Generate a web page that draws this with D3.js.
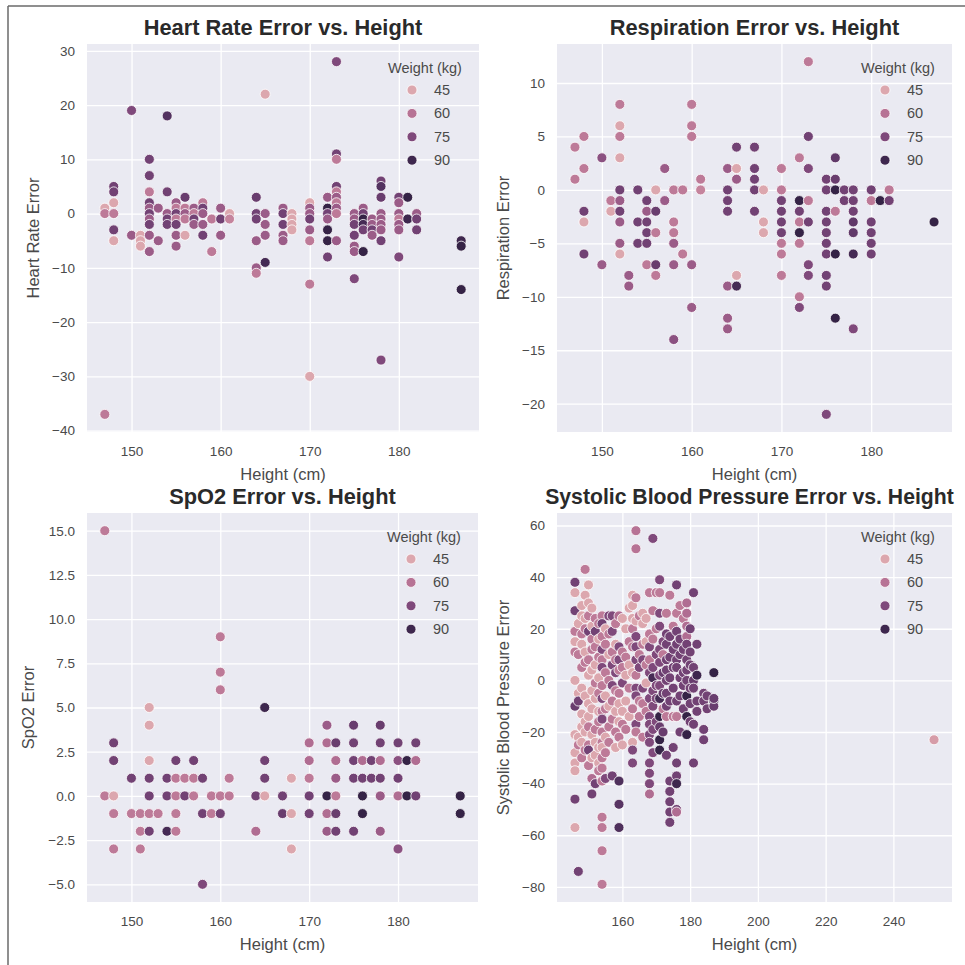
<!DOCTYPE html>
<html><head><meta charset="utf-8">
<script src="https://cdn.jsdelivr.net/npm/d3@7"></script>
<style>body{margin:0;background:#fff}svg{display:block}</style>
</head><body>
<svg id="chart" width="965" height="965"></svg>
<script>
// ---------- DATA: [height cm, error, weight kg] ----------
const heartRatePoints = [
[147,1,45],[147,0,58],[147,-37,58],
[148,5,78],[148,4,78],[148,2,45],[148,0,58],[148,-3,78],[148,-5,45],
[150,19,75],[150,-4,68],
[151,-4,45],[151,-5,45],[151,-6,45],
[152,10,78],[152,7,78],[152,4,58],[152,2,78],[152,1,68],[152,0,78],[152,-1,68],[152,-2,78],[152,-4,68],[152,-7,68],
[153,1,68],[153,-5,68],
[154,18,85],[154,4,78],[154,0,68],[154,-1,78],[154,-2,78],
[155,2,68],[155,1,58],[155,0,78],[155,-1,58],[155,-2,78],[155,-4,68],[155,-6,68],
[156,3,80],[156,1,58],[156,0,68],[156,-1,58],[156,-4,45],
[157,1,68],[157,0,58],[157,-1,78],[157,-2,68],
[158,2,58],[158,1,78],[158,0,68],[158,-2,68],[158,-4,78],
[159,-1,58],[159,-7,58],
[160,1,68],[160,-1,78],[160,-4,68],
[161,0,45],[161,-1,55],
[164,3,80],[164,0,78],[164,-1,78],[164,-5,68],[164,-10,68],[164,-11,58],
[165,22,45],[165,0,68],[165,-2,68],[165,-4,68],[165,-9,88],
[167,1,68],[167,0,78],[167,-2,78],[167,-4,68],[167,-5,68],
[168,0,45],[168,-1,45],[168,-2,45],[168,-3,45],
[170,2,45],[170,1,68],[170,0,68],[170,-1,78],[170,-3,68],[170,-5,58],[170,-13,58],[170,-30,45],
[172,3,68],[172,1,92],[172,0,78],[172,-1,68],[172,-3,92],[172,-5,92],[172,-8,78],
[173,28,75],[173,11,78],[173,10,58],[173,5,78],[173,4,58],[173,3,68],[173,2,58],[173,1,68],[173,0,58],[173,-5,68],
[175,0,68],[175,-1,68],[175,-2,78],[175,-4,78],[175,-6,68],[175,-7,68],[175,-12,75],
[176,1,68],[176,0,78],[176,-1,92],[176,-2,88],[176,-3,78],[176,-7,92],
[177,-1,68],[177,-2,68],[177,-3,78],[177,-4,68],
[178,6,78],[178,5,85],[178,3,80],[178,0,68],[178,-1,68],[178,-2,68],[178,-3,68],[178,-5,78],[178,-27,75],
[180,3,78],[180,2,68],[180,0,68],[180,-1,58],[180,-2,68],[180,-3,68],[180,-8,75],
[181,3,92],[181,-1,90],
[182,0,68],[182,-1,78],[182,-3,78],
[187,-5,90],[187,-6,92],[187,-14,92]
];
const respirationPoints = [
[147,4,58],[147,1,58],
[148,5,58],[148,2,58],[148,-2,78],[148,-3,45],[148,-6,78],
[150,3,72],[150,-7,68],
[151,-1,58],[151,-2,45],
[152,8,58],[152,6,45],[152,5,58],[152,3,45],[152,0,78],[152,-1,68],[152,-2,78],[152,-3,68],[152,-5,68],[152,-6,45],
[153,-8,68],[153,-9,68],
[154,0,78],[154,-3,78],[154,-5,78],
[155,-1,78],[155,-2,68],[155,-3,78],[155,-4,78],[155,-5,78],[155,-7,58],
[156,0,45],[156,-2,80],[156,-4,58],[156,-7,80],[156,-8,58],
[157,2,68],[157,-1,68],
[158,0,58],[158,-3,58],[158,-4,58],[158,-5,68],[158,-7,68],[158,-14,72],
[159,0,58],[159,-6,58],
[160,8,58],[160,6,58],[160,5,58],[160,-7,68],[160,-11,68],
[161,1,58],[161,0,55],
[164,2,68],[164,0,78],[164,-1,78],[164,-2,78],[164,-9,68],[164,-12,68],[164,-13,68],
[165,4,78],[165,2,45],[165,1,68],[165,-8,45],[165,-9,88],
[167,4,78],[167,2,78],[167,1,78],[167,0,78],[167,-2,78],
[168,0,45],[168,-3,45],[168,-4,45],
[170,2,58],[170,0,58],[170,-1,78],[170,-2,78],[170,-3,78],[170,-4,78],[170,-5,58],[170,-6,58],[170,-8,58],
[172,3,58],[172,-1,92],[172,-2,78],[172,-3,58],[172,-4,92],[172,-5,58],[172,-10,58],[172,-11,75],
[173,12,58],[173,5,78],[173,2,75],[173,-1,58],[173,-3,78],[173,-7,75],[173,-8,75],
[175,1,78],[175,0,78],[175,-2,78],[175,-3,78],[175,-4,78],[175,-5,78],[175,-6,78],[175,-8,78],[175,-9,78],[175,-21,75],
[176,3,82],[176,1,80],[176,0,92],[176,-2,58],[176,-6,92],[176,-12,92],
[177,0,78],[177,-1,78],
[178,0,78],[178,-1,78],[178,-2,78],[178,-3,82],[178,-4,82],[178,-6,88],[178,-13,75],
[180,0,78],[180,-1,58],[180,-3,78],[180,-4,78],[180,-5,78],[180,-6,78],
[181,-1,92],
[182,0,58],[182,-1,78],
[187,-3,92]
];
const spo2Points = [
[147,15,58],[147,0,58],
[148,3,78],[148,2,78],[148,0,45],[148,-1,58],[148,-3,58],
[150,1,78],[150,-1,58],
[151,-1,58],[151,-2,58],[151,-3,58],
[152,5,45],[152,4,45],[152,2,45],[152,1,78],[152,0,78],[152,-1,58],[152,-2,78],
[153,-1,58],
[154,1,78],[154,0,78],[154,-2,88],
[155,2,78],[155,1,58],[155,0,58],[155,-1,58],[155,-2,58],
[156,1,58],[156,0,78],
[157,2,78],[157,1,58],[157,0,58],
[158,1,78],[158,-1,78],[158,-5,75],
[159,0,58],[159,-1,58],
[160,9,58],[160,7,58],[160,6,58],[160,0,58],[160,-1,78],
[161,1,58],[161,0,58],
[164,0,78],[164,-2,62],
[165,5,90],[165,2,78],[165,1,78],[165,0,45],
[167,0,78],[167,-1,80],
[168,1,45],[168,-1,45],[168,-3,45],
[170,3,62],[170,2,62],[170,1,58],[170,0,78],[170,-1,78],
[172,4,68],[172,3,62],[172,0,92],[172,-1,62],[172,-2,68],
[173,3,80],[173,2,62],[173,1,68],[173,0,58],[173,-1,80],[173,-2,78],
[175,4,80],[175,3,78],[175,2,78],[175,1,78],[175,-2,78],
[176,2,62],[176,1,78],[176,0,92],[176,-1,92],
[177,2,78],[177,1,78],
[178,4,80],[178,3,78],[178,2,62],[178,1,78],[178,0,68],[178,-2,68],
[180,3,78],[180,2,72],[180,1,78],[180,0,62],[180,-3,72],
[181,2,92],[181,0,92],
[182,3,78],[182,2,62],[182,0,78],
[187,0,92],[187,-1,92]
];
const systolicPoints = [
[146,38,78],[146,34,45],[146,27,78],[146,19,58],[146,15,45],[146,11,58],[146,0,45],[146,-10,80],[146,-21,45],[146,-28,45],[146,-32,45],[146,-35,45],[146,-46,78],[146,-57,45],[147,-74,78],
[147,22,45],[147,10,58],[147,-5,45],[147,-8,78],[147,-22,45],[147,-25,58],
[148,29,45],[148,25,45],[148,18,58],[148,14,45],[148,5,58],[148,-3,45],[148,-13,45],[148,-18,45],[148,-24,45],[148,-30,58],
[149,43,58],[149,33,45],[149,24,45],[149,20,58],[149,11,45],[149,7,58],[149,-6,45],[149,-16,45],[149,-20,45],[149,-27,58],
[150,37,45],[150,30,45],[150,25,58],[150,19,78],[150,8,58],[150,2,45],[150,-9,45],[150,-14,45],[150,-18,58],[150,-25,58],[150,-27,78],[150,-33,58],
[151,28,45],[151,21,45],[151,16,58],[151,12,58],[151,4,45],[151,-4,45],[151,-11,45],[151,-21,45],[151,-30,45],[151,-38,62],[151,-44,78],
[152,24,58],[152,19,78],[152,13,58],[152,6,45],[152,-1,58],[152,-7,45],[152,-19,58],[152,-24,45],[152,-29,45],[152,-40,78],
[153,22,58],[153,16,45],[153,9,58],[153,1,45],[153,-5,58],[153,-12,45],[153,-16,58],[153,-26,45],[153,-32,45],[153,-35,58],
[154,25,58],[154,22,78],[154,17,58],[154,12,75],[154,8,58],[154,5,75],[154,-2,58],[154,-7,75],[154,-12,58],[154,-15,75],[154,-20,58],[154,-24,58],[154,-26,45],[154,-30,58],[154,-34,58],[154,-39,58],[154,-53,58],[154,-57,58],[154,-66,58],[154,-79,58],
[155,20,45],[155,14,58],[155,3,58],[155,-6,45],[155,-11,58],[155,-22,45],[155,-28,58],[155,-38,75],
[156,25,75],[156,18,58],[156,10,45],[156,0,58],[156,-10,45],[156,-18,58],[156,-24,58],
[157,25,75],[157,19,75],[157,11,58],[157,6,75],[157,-2,75],[157,-8,58],[157,-15,58],[157,-37,78],
[158,22,58],[158,14,45],[158,8,58],[158,3,75],[158,-4,58],[158,-12,45],[158,-20,58],[158,-26,45],
[159,25,62],[159,13,75],[159,8,75],[159,4,58],[159,-5,58],[159,-9,45],[159,-16,45],[159,-22,58],[159,-39,86],[159,-48,84],[159,-57,86],
[160,24,45],[160,11,58],[160,5,58],[160,-1,75],[160,-12,45],[160,-17,58],[160,-25,45],
[161,20,45],[161,9,58],[161,2,45],[161,-8,45],[161,-19,58],
[162,28,45],[162,15,58],[162,6,45],[162,-3,58],[162,-14,45],
[163,33,45],[163,29,45],[163,24,45],[163,20,58],[163,13,58],[163,3,45],[163,-11,58],[163,-24,45],[163,-27,75],[163,-32,75],
[164,58,60],[164,51,60],[164,32,58],[164,23,45],[164,17,75],[164,13,75],[164,8,75],[164,2,58],[164,-3,75],[164,-6,75],[164,-17,75],[164,-20,58],
[165,25,58],[165,10,58],[165,5,75],[165,-8,58],[165,-14,58],
[166,26,45],[166,22,45],[166,14,58],[166,8,75],[166,-3,75],[166,-9,58],[166,-22,58],
[167,24,45],[167,15,45],[167,6,58],[167,-1,45],[167,-12,58],
[168,34,58],[168,18,58],[168,13,75],[168,8,58],[168,3,75],[168,-7,75],[168,-14,75],[168,-17,75],[168,-21,75],[168,-24,75],[168,-32,75],[168,-36,75],[168,-40,75],[168,-44,62],
[169,55,75],[169,27,58],[169,16,58],[169,5,75],[169,1,88],[169,-4,75],[169,-10,75],[169,-19,75],[169,-28,75],
[170,34,58],[170,20,58],[170,10,75],[170,-2,75],[170,-7,75],[170,-16,75],
[171,39,75],[171,34,58],[171,26,75],[171,21,75],[171,12,75],[171,7,75],[171,2,75],[171,-2,75],[171,-7,88],[171,-14,92],[171,-18,80],[171,-23,92],[171,-27,92],
[172,15,75],[172,10,58],[172,3,80],[172,-5,80],[172,-11,58],[172,-20,80],
[173,26,58],[173,18,78],[173,14,78],[173,8,78],[173,4,78],[173,0,78],[173,-5,78],[173,-10,78],[173,-14,58],[173,-29,78],
[174,33,58],[174,17,78],[174,9,78],[174,1,78],[174,-8,78],[174,-39,78],[174,-43,78],[174,-47,78],[174,-51,78],[174,-55,78],
[175,21,58],[175,12,78],[175,5,78],[175,-3,78],[175,-14,58],[175,-26,78],
[176,37,78],[176,26,58],[176,19,78],[176,14,78],[176,8,78],[176,5,78],[176,-8,78],[176,-14,58],[176,-32,78],[176,-37,78],[176,-40,90],[176,-50,78],[176,-51,62],
[177,29,58],[177,16,78],[177,10,78],[177,1,78],[177,-6,78],[177,-20,78],
[178,24,58],[178,12,78],[178,3,78],[178,-2,78],[178,-11,78],
[179,30,62],[179,26,62],[179,21,62],[179,17,62],[179,14,78],[179,8,78],[179,4,78],[179,0,78],[179,-6,92],[179,-14,92],[179,-21,92],
[180,20,78],[180,11,78],[180,6,78],[180,-3,78],[180,-9,78],[180,-16,78],
[181,34,78],[181,5,78],[181,0,80],[181,-3,78],[181,-17,78],[181,-32,78],
[182,14,78],[182,2,90],[182,-8,78],[182,-12,78],
[184,-5,78],[184,-8,78],[184,-19,78],[184,-23,78],
[185,-6,78],[185,-11,78],
[187,3,92],[187,-8,92],[187,-10,80],[187,-7,80],
[252,-23,48]
];

// tick labels
const hrYTicks = [-40,-30,-20,-10,0,10,20,30];
const respYTicks = [-20,-15,-10,-5,0,5,10];
const spo2YTicks = [-5,-2.5,0,2.5,5,7.5,10,12.5,15];
const sbpYTicks = [-80,-60,-40,-20,0,20,40,60];
const heightTicks = [150,160,170,180];
const sbpHeightTicks = [160,180,200,220,240];
const legendWeights = [45,60,75,90];
const weightRange = [34,94];

// ---------- LAYOUT / STYLE ----------
const FONT = "'Liberation Sans', Arial, Helvetica, sans-serif";
const panels = [
  {title:"Heart Rate Error vs. Height", ylabel:"Heart Rate Error", data:heartRatePoints,
   yTicks:hrYTicks, yFmt:d3.format("d"), xTicks:heightTicks, titleSize:21.8, titleShift:0,
   box:{x0:87,x1:479,y0:44,y1:432}, titleY:35, ylabelX:33},
  {title:"Respiration Error vs. Height", ylabel:"Respiration Error", data:respirationPoints,
   yTicks:respYTicks, yFmt:d3.format("d"), xTicks:heightTicks, titleSize:21.8, titleShift:0,
   box:{x0:557,x1:952,y0:44,y1:432}, titleY:35, ylabelX:503},
  {title:"SpO2 Error vs. Height", ylabel:"SpO2 Error", data:spo2Points,
   yTicks:spo2YTicks, yFmt:d3.format(".1f"), xTicks:heightTicks, titleSize:21.8, titleShift:0,
   box:{x0:87,x1:478,y0:513,y1:902}, titleY:504, ylabelX:28},
  {title:"Systolic Blood Pressure Error vs. Height", ylabel:"Systolic Blood Pressure Error", data:systolicPoints,
   yTicks:sbpYTicks, yFmt:d3.format("d"), xTicks:sbpHeightTicks, titleSize:21.2, titleShift:-5,
   box:{x0:557,x1:952,y0:513,y1:902}, titleY:504, ylabelX:503}
];

// seaborn default "ch:" cubehelix colormap
function cubehelix(x){
  const s=0, r=0.4, h=0.8, g=1;
  const xg=Math.pow(x,g), a=h*xg*(1-xg)/2, phi=2*Math.PI*(s/3+r*x);
  const c=Math.cos(phi), sn=Math.sin(phi);
  const R=xg+a*(-0.14861*c+1.78277*sn), G=xg+a*(-0.29227*c-0.90649*sn), B=xg+a*(1.97294*c);
  const cl=v=>Math.round(Math.max(0,Math.min(1,v))*255);
  return d3.rgb(cl(R),cl(G),cl(B)).toString();
}
const lightScale = d3.scaleLinear().domain(weightRange).range([0.85,0.15]).clamp(true);
const color = w => cubehelix(lightScale(w));
const minus = s => s.replace(/-/g,"\u2212");

const svg = d3.select("#chart");
svg.append("rect").attr("width",965).attr("height",965).attr("fill","#fff");

function pad(ext){ const m=(ext[1]-ext[0])*0.05; return [ext[0]-m, ext[1]+m]; }

panels.forEach(p=>{
  const b=p.box;
  const x=d3.scaleLinear().domain(pad(d3.extent(p.data,d=>d[0]))).range([b.x0,b.x1]);
  const y=d3.scaleLinear().domain(pad(d3.extent(p.data,d=>d[1]))).range([b.y1,b.y0]);
  const g=svg.append("g");
  g.append("rect").attr("x",b.x0).attr("y",b.y0).attr("width",b.x1-b.x0).attr("height",b.y1-b.y0).attr("fill","#eaeaf2");
  const gx=g.append("g").attr("transform",`translate(0,${b.y1})`)
    .call(d3.axisBottom(x).tickValues(p.xTicks).tickSize(-(b.y1-b.y0)).tickPadding(14).tickFormat(d3.format("d")));
  const gy=g.append("g").attr("transform",`translate(${b.x0},0)`)
    .call(d3.axisLeft(y).tickValues(p.yTicks).tickSize(-(b.x1-b.x0)).tickPadding(12).tickFormat(d=>minus(p.yFmt(d))));
  [gx,gy].forEach(a=>{
    a.select(".domain").remove();
    a.selectAll(".tick line").attr("stroke","#fff").attr("stroke-width",1.3);
    a.selectAll(".tick text").attr("fill","#4a4a4a").style("font-family",FONT).style("font-size","13.5px");
  });
  gx.selectAll(".tick text").attr("dy","0.71em");
  g.append("g").selectAll("circle").data(p.data).join("circle")
    .attr("cx",d=>x(d[0])).attr("cy",d=>y(d[1])).attr("r",5)
    .attr("fill",d=>color(d[2])).attr("stroke","#fff").attr("stroke-width",0.8);
  svg.append("text").attr("x",(b.x0+b.x1)/2+p.titleShift).attr("y",p.titleY).attr("text-anchor","middle")
    .style("font-family",FONT).style("font-size",p.titleSize+"px").style("font-weight","bold").attr("fill","#2a2a2a").text(p.title);
  svg.append("text").attr("x",(b.x0+b.x1)/2).attr("y",b.y1+48).attr("text-anchor","middle")
    .style("font-family",FONT).style("font-size","16.5px").attr("fill","#4a4a4a").text("Height (cm)");
  svg.append("text").attr("transform",`translate(${p.ylabelX},${(b.y0+b.y1)/2}) rotate(-90)`).attr("dy","0.35em")
    .attr("text-anchor","middle").style("font-family",FONT).style("font-size","16.5px").attr("fill","#4a4a4a").text(p.ylabel);
  const lg=svg.append("g");
  lg.append("text").attr("x",b.x1-54).attr("y",b.y0+29).attr("text-anchor","middle")
    .style("font-family",FONT).style("font-size","14.5px").attr("fill","#4a4a4a").text("Weight (kg)");
  const items=lg.selectAll("g.it").data(legendWeights).join("g").attr("class","it")
    .attr("transform",(d,i)=>`translate(${b.x1-67},${b.y0+46+i*23.4})`);
  items.append("circle").attr("r",5).attr("fill",d=>color(d)).attr("stroke","#fff").attr("stroke-width",0.8);
  items.append("text").attr("x",22).attr("dy","0.35em").style("font-family",FONT).style("font-size","14.5px")
    .attr("fill","#4a4a4a").text(d=>d);
});

svg.append("line").attr("x1",8).attr("y1",6).attr("x2",965).attr("y2",6).attr("stroke","#6a6a6a").attr("stroke-width",1.5);
svg.append("line").attr("x1",8).attr("y1",6).attr("x2",8).attr("y2",965).attr("stroke","#6a6a6a").attr("stroke-width",1.5);
</script>
</body></html>
